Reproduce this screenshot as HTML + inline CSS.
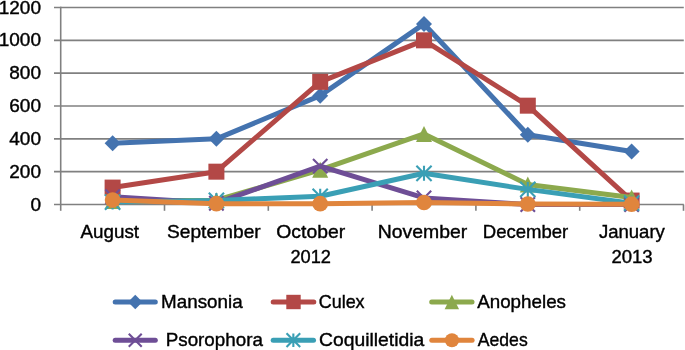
<!DOCTYPE html><html><head><meta charset="utf-8"><style>html,body{margin:0;padding:0;background:#fff;}svg{display:block;filter:blur(0.3px);}text{font-family:"Liberation Sans",sans-serif;fill:#000;stroke:#000;stroke-width:0.4px;}</style></head><body>
<svg width="685" height="350" viewBox="0 0 685 350">
<rect width="685" height="350" fill="#fff"/>
<line x1="54" y1="204.50" x2="683.8" y2="204.50" stroke="#808080" stroke-width="1.6"/>
<line x1="54" y1="171.67" x2="683.8" y2="171.67" stroke="#808080" stroke-width="1.6"/>
<line x1="54" y1="138.83" x2="683.8" y2="138.83" stroke="#808080" stroke-width="1.6"/>
<line x1="54" y1="106.00" x2="683.8" y2="106.00" stroke="#808080" stroke-width="1.6"/>
<line x1="54" y1="73.17" x2="683.8" y2="73.17" stroke="#808080" stroke-width="1.6"/>
<line x1="54" y1="40.33" x2="683.8" y2="40.33" stroke="#808080" stroke-width="1.6"/>
<line x1="54" y1="7.50" x2="683.8" y2="7.50" stroke="#808080" stroke-width="1.6"/>
<line x1="60.70" y1="6.70" x2="60.70" y2="210.8" stroke="#808080" stroke-width="1.6"/>
<line x1="164.50" y1="204.50" x2="164.50" y2="210.8" stroke="#808080" stroke-width="1.6"/>
<line x1="268.30" y1="204.50" x2="268.30" y2="210.8" stroke="#808080" stroke-width="1.6"/>
<line x1="372.10" y1="204.50" x2="372.10" y2="210.8" stroke="#808080" stroke-width="1.6"/>
<line x1="475.90" y1="204.50" x2="475.90" y2="210.8" stroke="#808080" stroke-width="1.6"/>
<line x1="579.70" y1="204.50" x2="579.70" y2="210.8" stroke="#808080" stroke-width="1.6"/>
<line x1="683.50" y1="204.50" x2="683.50" y2="210.8" stroke="#808080" stroke-width="1.6"/>
<text x="41" y="210.50" font-size="19" text-anchor="end">0</text>
<text x="41" y="177.67" font-size="19" text-anchor="end">200</text>
<text x="41" y="144.83" font-size="19" text-anchor="end">400</text>
<text x="41" y="112.00" font-size="19" text-anchor="end">600</text>
<text x="41" y="79.17" font-size="19" text-anchor="end">800</text>
<text x="41" y="46.33" font-size="19" text-anchor="end">1000</text>
<text x="41" y="13.50" font-size="19" text-anchor="end">1200</text>
<polyline points="112.60,143.27 216.40,138.83 320.20,95.66 424.00,23.92 527.80,134.73 631.60,151.47" fill="none" stroke="#4473AF" stroke-width="5.0" stroke-linejoin="round" stroke-linecap="round"/>
<path d="M112.60 135.27L120.60 143.27L112.60 151.27L104.60 143.27Z" fill="#4473AF"/>
<path d="M216.40 130.83L224.40 138.83L216.40 146.83L208.40 138.83Z" fill="#4473AF"/>
<path d="M320.20 87.66L328.20 95.66L320.20 103.66L312.20 95.66Z" fill="#4473AF"/>
<path d="M424.00 15.92L432.00 23.92L424.00 31.92L416.00 23.92Z" fill="#4473AF"/>
<path d="M527.80 126.73L535.80 134.73L527.80 142.73L519.80 134.73Z" fill="#4473AF"/>
<path d="M631.60 143.47L639.60 151.47L631.60 159.47L623.60 151.47Z" fill="#4473AF"/>
<polyline points="112.60,187.59 216.40,171.67 320.20,81.87 424.00,40.33 527.80,105.67 631.60,200.56" fill="none" stroke="#B34846" stroke-width="5.0" stroke-linejoin="round" stroke-linecap="round"/>
<rect x="104.60" y="179.59" width="16.00" height="16.00" fill="#B34846"/>
<rect x="208.40" y="163.67" width="16.00" height="16.00" fill="#B34846"/>
<rect x="312.20" y="73.87" width="16.00" height="16.00" fill="#B34846"/>
<rect x="416.00" y="32.33" width="16.00" height="16.00" fill="#B34846"/>
<rect x="519.80" y="97.67" width="16.00" height="16.00" fill="#B34846"/>
<rect x="623.60" y="192.56" width="16.00" height="16.00" fill="#B34846"/>
<polyline points="112.60,200.89 216.40,200.23 320.20,169.86 424.00,133.91 527.80,184.47 631.60,197.60" fill="none" stroke="#8CA94D" stroke-width="5.0" stroke-linejoin="round" stroke-linecap="round"/>
<path d="M112.60 192.89L120.60 208.89L104.60 208.89Z" fill="#8CA94D"/>
<path d="M216.40 192.23L224.40 208.23L208.40 208.23Z" fill="#8CA94D"/>
<path d="M320.20 161.86L328.20 177.86L312.20 177.86Z" fill="#8CA94D"/>
<path d="M424.00 125.91L432.00 141.91L416.00 141.91Z" fill="#8CA94D"/>
<path d="M527.80 176.47L535.80 192.47L519.80 192.47Z" fill="#8CA94D"/>
<path d="M631.60 189.60L639.60 205.60L623.60 205.60Z" fill="#8CA94D"/>
<polyline points="112.60,196.78 216.40,203.19 320.20,166.09 424.00,197.93 527.80,204.50 631.60,204.50" fill="none" stroke="#6E4E96" stroke-width="5.0" stroke-linejoin="round" stroke-linecap="round"/>
<path d="M105.40 189.58L119.80 203.98M119.80 189.58L105.40 203.98" stroke="#6E4E96" stroke-width="2.1" fill="none"/>
<path d="M209.20 195.99L223.60 210.39M223.60 195.99L209.20 210.39" stroke="#6E4E96" stroke-width="2.1" fill="none"/>
<path d="M313.00 158.89L327.40 173.28M327.40 158.89L313.00 173.28" stroke="#6E4E96" stroke-width="2.1" fill="none"/>
<path d="M416.80 190.73L431.20 205.13M431.20 190.73L416.80 205.13" stroke="#6E4E96" stroke-width="2.1" fill="none"/>
<path d="M520.60 197.30L535.00 211.70M535.00 197.30L520.60 211.70" stroke="#6E4E96" stroke-width="2.1" fill="none"/>
<path d="M624.40 197.30L638.80 211.70M638.80 197.30L624.40 211.70" stroke="#6E4E96" stroke-width="2.1" fill="none"/>
<polyline points="112.60,202.04 216.40,200.40 320.20,196.29 424.00,173.31 527.80,189.40 631.60,203.19" fill="none" stroke="#3A9FB5" stroke-width="5.0" stroke-linejoin="round" stroke-linecap="round"/>
<path d="M105.00 194.44L120.20 209.64M120.20 194.44L105.00 209.64M112.60 194.52L112.60 209.56" stroke="#3A9FB5" stroke-width="2.1" fill="none"/>
<path d="M208.80 192.80L224.00 208.00M224.00 192.80L208.80 208.00M216.40 192.88L216.40 207.92" stroke="#3A9FB5" stroke-width="2.1" fill="none"/>
<path d="M312.60 188.69L327.80 203.89M327.80 188.69L312.60 203.89M320.20 188.77L320.20 203.81" stroke="#3A9FB5" stroke-width="2.1" fill="none"/>
<path d="M416.40 165.71L431.60 180.91M431.60 165.71L416.40 180.91M424.00 165.79L424.00 180.83" stroke="#3A9FB5" stroke-width="2.1" fill="none"/>
<path d="M520.20 181.80L535.40 197.00M535.40 181.80L520.20 197.00M527.80 181.88L527.80 196.92" stroke="#3A9FB5" stroke-width="2.1" fill="none"/>
<path d="M624.00 195.59L639.20 210.79M639.20 195.59L624.00 210.79M631.60 195.67L631.60 210.71" stroke="#3A9FB5" stroke-width="2.1" fill="none"/>
<polyline points="112.60,200.07 216.40,203.68 320.20,203.68 424.00,202.53 527.80,204.01 631.60,204.17" fill="none" stroke="#E0853D" stroke-width="5.0" stroke-linejoin="round" stroke-linecap="round"/>
<circle cx="112.60" cy="200.07" r="7.84" fill="#E0853D"/>
<circle cx="216.40" cy="203.68" r="7.84" fill="#E0853D"/>
<circle cx="320.20" cy="203.68" r="7.84" fill="#E0853D"/>
<circle cx="424.00" cy="202.53" r="7.84" fill="#E0853D"/>
<circle cx="527.80" cy="204.01" r="7.84" fill="#E0853D"/>
<circle cx="631.60" cy="204.17" r="7.84" fill="#E0853D"/>
<text x="80.50" y="237.50" font-size="19" textLength="58.50" lengthAdjust="spacingAndGlyphs">August</text>
<text x="167.00" y="237.50" font-size="19" textLength="93.70" lengthAdjust="spacingAndGlyphs">September</text>
<text x="276.30" y="237.50" font-size="19" textLength="68.90" lengthAdjust="spacingAndGlyphs">October</text>
<text x="290.40" y="262.80" font-size="19" textLength="40.60" lengthAdjust="spacingAndGlyphs">2012</text>
<text x="377.70" y="237.50" font-size="19" textLength="89.50" lengthAdjust="spacingAndGlyphs">November</text>
<text x="482.80" y="237.50" font-size="19" textLength="85.50" lengthAdjust="spacingAndGlyphs">December</text>
<text x="598.90" y="237.50" font-size="19" textLength="66.00" lengthAdjust="spacingAndGlyphs">January</text>
<text x="611.40" y="262.80" font-size="19" textLength="41.20" lengthAdjust="spacingAndGlyphs">2013</text>
<line x1="115.20" y1="302" x2="155.30" y2="302" stroke="#4473AF" stroke-width="5.0" stroke-linecap="round"/>
<path d="M135.25 294.80L142.45 302.00L135.25 309.20L128.05 302.00Z" fill="#4473AF"/>
<text x="161.10" y="307.80" font-size="19" textLength="81.50" lengthAdjust="spacingAndGlyphs">Mansonia</text>
<line x1="273.20" y1="302" x2="313.80" y2="302" stroke="#B34846" stroke-width="5.0" stroke-linecap="round"/>
<rect x="286.30" y="294.80" width="14.40" height="14.40" fill="#B34846"/>
<text x="318.70" y="307.80" font-size="19" textLength="45.90" lengthAdjust="spacingAndGlyphs">Culex</text>
<line x1="431.70" y1="302" x2="472.00" y2="302" stroke="#8CA94D" stroke-width="5.0" stroke-linecap="round"/>
<path d="M451.85 294.80L459.05 309.20L444.65 309.20Z" fill="#8CA94D"/>
<text x="477.20" y="307.80" font-size="19" textLength="88.80" lengthAdjust="spacingAndGlyphs">Anopheles</text>
<line x1="115.20" y1="340.2" x2="155.30" y2="340.2" stroke="#6E4E96" stroke-width="5.0" stroke-linecap="round"/>
<path d="M128.77 333.72L141.73 346.68M141.73 333.72L128.77 346.68" stroke="#6E4E96" stroke-width="2.1" fill="none"/>
<text x="165.70" y="345.80" font-size="19" textLength="97.20" lengthAdjust="spacingAndGlyphs">Psorophora</text>
<line x1="273.20" y1="340.2" x2="313.50" y2="340.2" stroke="#3A9FB5" stroke-width="5.0" stroke-linecap="round"/>
<path d="M286.51 333.36L300.19 347.04M300.19 333.36L286.51 347.04M293.35 333.43L293.35 346.97" stroke="#3A9FB5" stroke-width="2.1" fill="none"/>
<text x="319.10" y="345.80" font-size="19" textLength="105.10" lengthAdjust="spacingAndGlyphs">Coquilletidia</text>
<line x1="431.80" y1="340.2" x2="472.10" y2="340.2" stroke="#E0853D" stroke-width="5.0" stroke-linecap="round"/>
<circle cx="451.95" cy="340.20" r="7.06" fill="#E0853D"/>
<text x="477.80" y="345.80" font-size="19" textLength="49.90" lengthAdjust="spacingAndGlyphs">Aedes</text>
</svg></body></html>
